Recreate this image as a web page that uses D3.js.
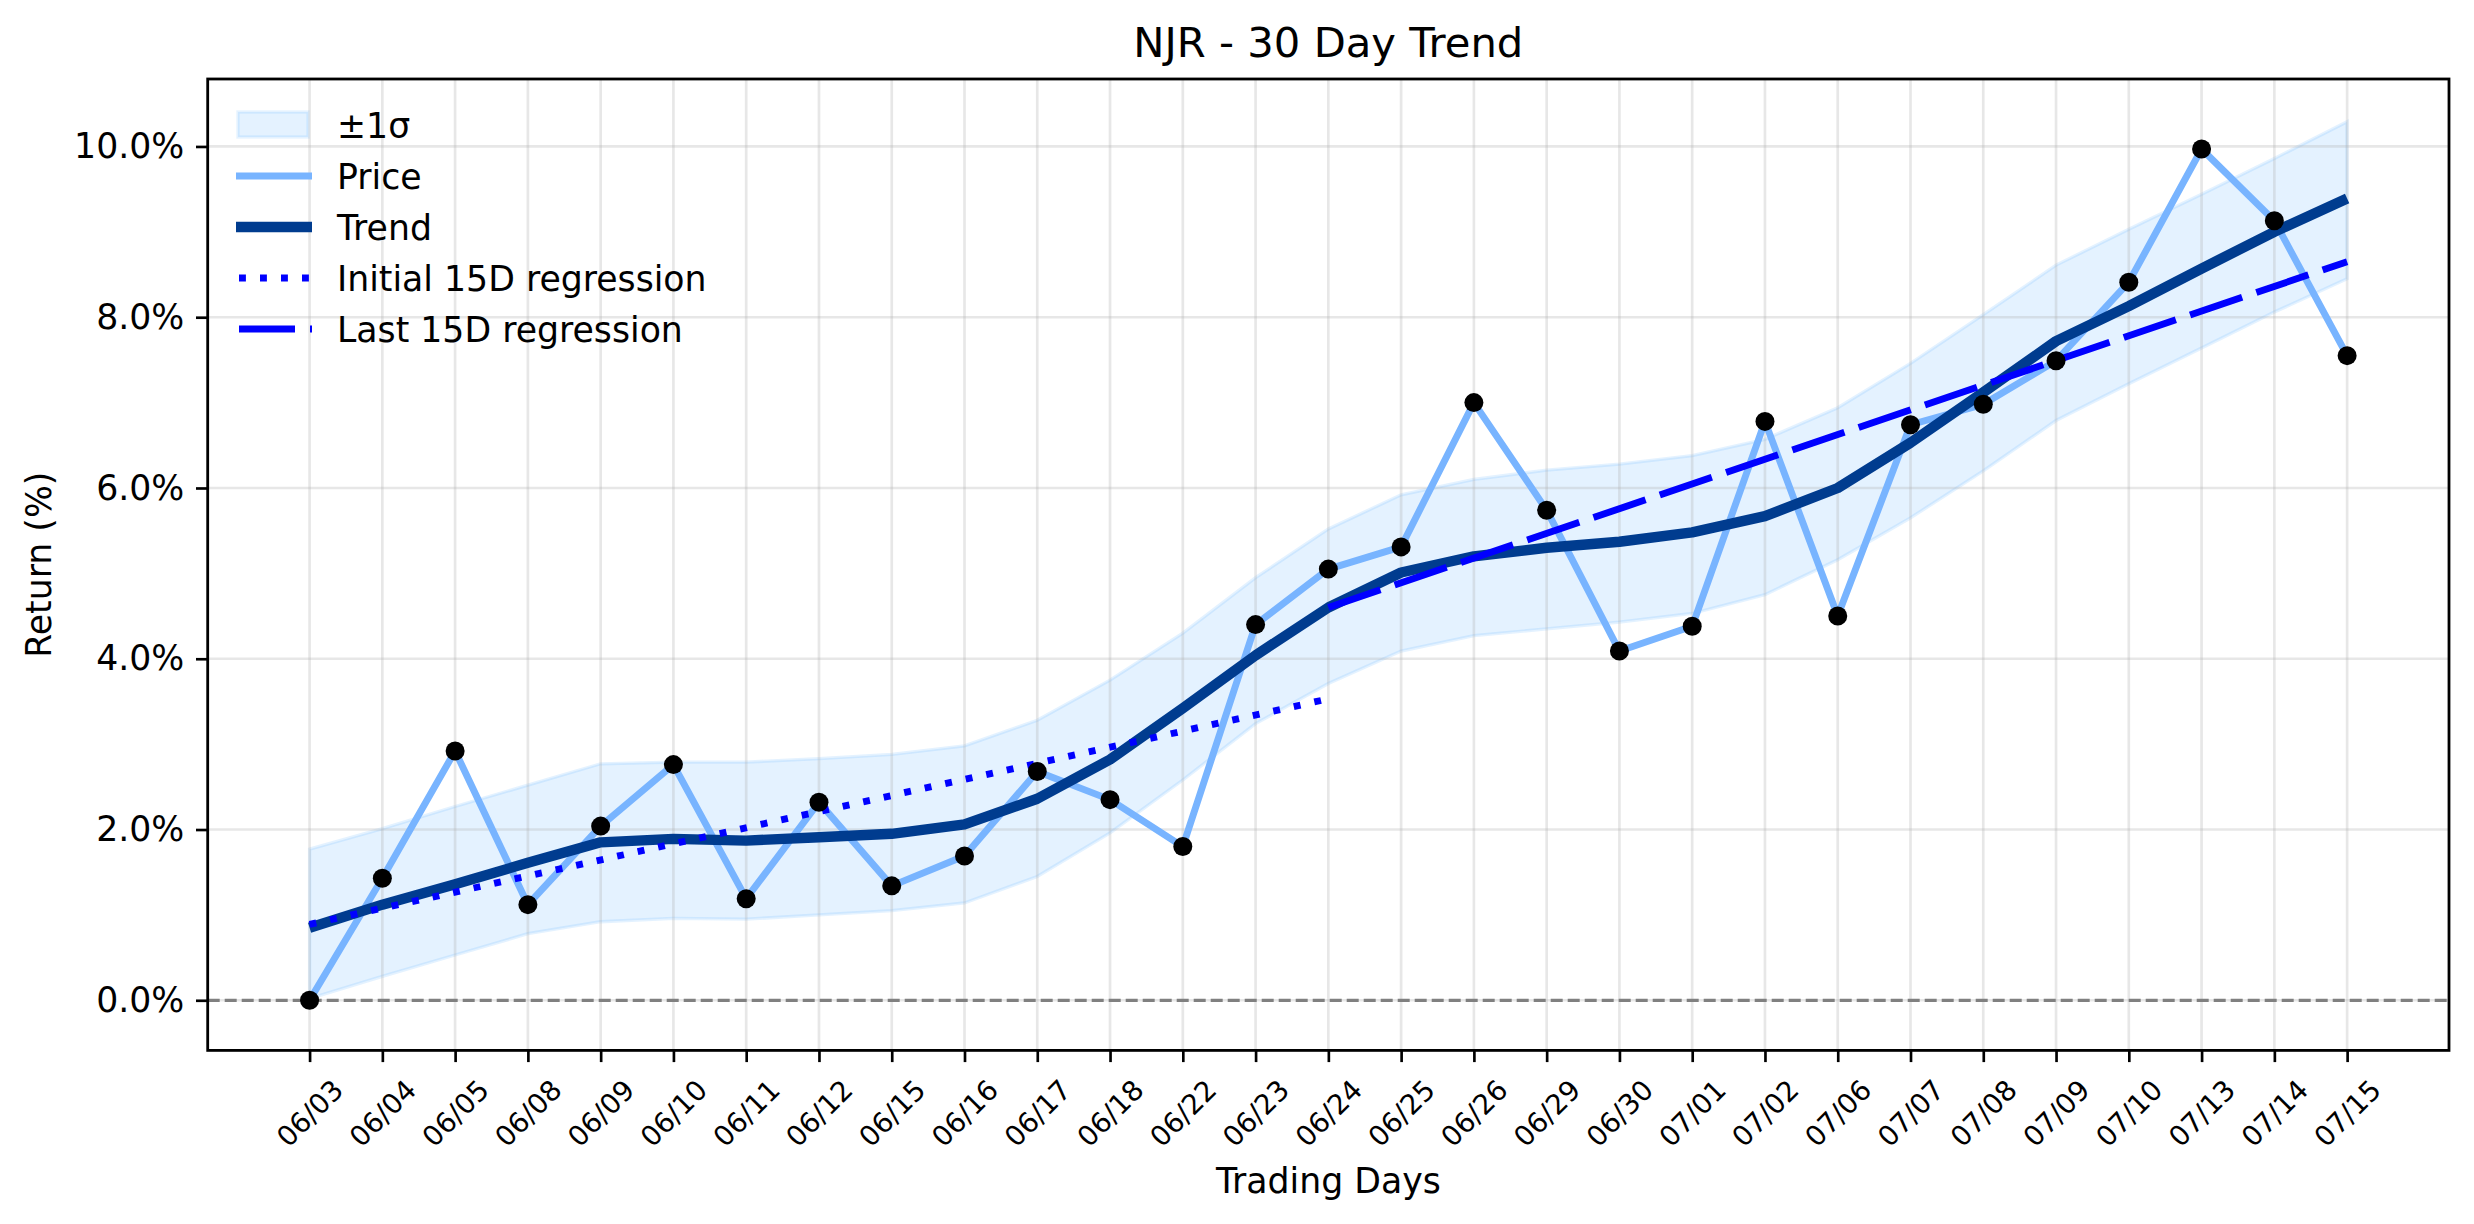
<!DOCTYPE html>
<html><head><meta charset="utf-8">
<script src="https://cdn.jsdelivr.net/npm/d3@7"></script>
<style>body{margin:0;background:#fff}</style>
</head><body><svg id="c"></svg>
<script>
const dates=["06/03","06/04","06/05","06/08","06/09","06/10","06/11","06/12","06/15","06/16","06/17","06/18","06/22","06/23","06/24","06/25","06/26","06/29","06/30","07/01","07/02","07/06","07/07","07/08","07/09","07/10","07/13","07/14","07/15"];
const price=[0.00,1.43,2.92,1.12,2.04,2.76,1.19,2.32,1.34,1.69,2.68,2.35,1.80,4.40,5.05,5.31,7.00,5.74,4.09,4.38,6.78,4.50,6.74,6.98,7.49,8.41,9.97,9.13,7.55];
const trend=[0.85,1.12,1.36,1.61,1.85,1.89,1.87,1.91,1.95,2.06,2.36,2.82,3.42,4.04,4.60,5.01,5.20,5.30,5.37,5.48,5.67,6.00,6.53,7.12,7.72,8.13,8.57,9.00,9.39];
const upper=[1.77,2.01,2.27,2.52,2.77,2.79,2.79,2.83,2.88,2.98,3.28,3.75,4.30,4.95,5.52,5.92,6.10,6.21,6.28,6.38,6.57,6.94,7.46,8.03,8.61,9.03,9.44,9.86,10.29];
const lower=[0.02,0.28,0.53,0.78,0.92,0.96,0.95,1.00,1.05,1.14,1.45,1.96,2.58,3.24,3.71,4.09,4.27,4.35,4.43,4.53,4.75,5.16,5.65,6.20,6.79,7.22,7.64,8.06,8.45];
const initReg=[[0,0.89],[14,3.53]];
const lastReg=[[14,4.60],[28,8.65]];
const yTicks=[0,2,4,6,8,10];
const legendLabels=["±1σ","Price","Trend","Initial 15D regression","Last 15D regression"];

const W=2474,H=1224;
const m={l:207.7,r:2449,t:79,b:1050.4};
const FONT='"DejaVu Sans", sans-serif';
const FS=34.7, FS_T=41.7, FS_X=27.8;
const C={price:'#78b4ff',trend:'#003c8f',reg:'#0000ff',band:'#4da6ff'};
const svg=d3.select('#c').attr('width',W).attr('height',H).style('font-family',FONT);
svg.append('rect').attr('width',W).attr('height',H).attr('fill','#fff');
const x=d3.scaleLinear().domain([-1.4,29.4]).range([m.l,m.r]);
const y=d3.scaleLinear().domain([-0.587,10.79]).range([m.b,m.t]);
const idx=dates.map((d,i)=>i);

// band
const area=d3.area().x((d,i)=>x(i)).y0((d,i)=>y(lower[i])).y1((d,i)=>y(upper[i]));
svg.append('path').datum(dates).attr('d',area)
  .attr('fill',C.band).attr('fill-opacity',0.15)
  .attr('stroke',C.band).attr('stroke-opacity',0.15).attr('stroke-width',3.3);

// grid
const grid=svg.append('g');
grid.selectAll('line.v').data(idx).join('line').attr('class','v')
  .attr('x1',i=>x(i)).attr('x2',i=>x(i)).attr('y1',m.t).attr('y2',m.b);
grid.selectAll('line.h').data(yTicks).join('line').attr('class','h')
  .attr('x1',m.l).attr('x2',m.r).attr('y1',d=>y(d)).attr('y2',d=>y(d));
grid.selectAll('line').attr('stroke','#b0b0b0').attr('stroke-opacity',0.3).attr('stroke-width',2.67);

// zero line
svg.append('line').attr('x1',m.l).attr('x2',m.r).attr('y1',y(0)).attr('y2',y(0))
  .attr('stroke','#808080').attr('stroke-width',3.3).attr('stroke-dasharray','12,5');

const line=d3.line().x((d,i)=>x(i)).y(d=>y(d));
svg.append('path').datum(price).attr('d',line).attr('fill','none')
  .attr('stroke',C.price).attr('stroke-width',6.9).attr('stroke-linejoin','round');
svg.append('path').datum(trend).attr('d',line).attr('fill','none')
  .attr('stroke',C.trend).attr('stroke-width',10.4).attr('stroke-linejoin','round');

const line2=d3.line().x(d=>x(d[0])).y(d=>y(d[1]));
svg.append('path').datum(initReg).attr('d',line2).attr('fill','none')
  .attr('stroke',C.reg).attr('stroke-width',6.9).attr('stroke-dasharray','6.9,14.1');
svg.append('path').datum(lastReg).attr('d',line2).attr('fill','none')
  .attr('stroke',C.reg).attr('stroke-width',6.9).attr('stroke-dasharray','55,15');

// points
svg.append('g').selectAll('circle').data(price).join('circle')
  .attr('cx',(d,i)=>x(i)).attr('cy',d=>y(d)).attr('r',9.5).attr('fill','#000');

// axes
const xAxis=d3.axisBottom(x).tickValues(idx).tickFormat(i=>dates[i]).tickSize(11.7).tickSizeOuter(0).tickPadding(11.7);
const gx=svg.append('g').attr('transform',`translate(0,${m.b})`).call(xAxis);
gx.select('.domain').remove();
gx.selectAll('.tick line').attr('stroke','#000').attr('stroke-width',2.67);
gx.selectAll('.tick text').attr('y',null).attr('dy',null)
  .attr('text-anchor','middle').attr('dominant-baseline','central')
  .attr('transform','translate(0,63) rotate(-45)')
  .attr('font-size',FS_X).attr('font-family',FONT).attr('fill','#000');

const yAxis=d3.axisLeft(y).tickValues(yTicks).tickFormat(d=>d.toFixed(1)+'%').tickSize(11.7).tickSizeOuter(0).tickPadding(11.7);
const gy=svg.append('g').attr('transform',`translate(${m.l},0)`).call(yAxis);
gy.select('.domain').remove();
gy.selectAll('.tick line').attr('stroke','#000').attr('stroke-width',2.67);
gy.selectAll('.tick text').attr('font-size',FS).attr('font-family',FONT).attr('fill','#000');

svg.append('rect').attr('x',m.l).attr('y',m.t).attr('width',m.r-m.l).attr('height',m.b-m.t)
  .attr('fill','none').attr('stroke','#000').attr('stroke-width',2.8);

// labels
svg.append('text').attr('x',(m.l+m.r)/2).attr('y',57).attr('text-anchor','middle')
  .attr('font-size',FS_T).text('NJR - 30 Day Trend');
svg.append('text').attr('x',(m.l+m.r)/2).attr('y',1193).attr('text-anchor','middle')
  .attr('font-size',FS).text('Trading Days');
svg.append('text').attr('transform',`translate(51,${(m.t+m.b)/2}) rotate(-90)`).attr('text-anchor','middle')
  .attr('font-size',FS).text('Return (%)');

// legend
const lg=svg.append('g');
const ly=[125,176,227,278,329];
lg.append('rect').attr('x',238).attr('y',112).attr('width',70).attr('height',25)
  .attr('fill',C.band).attr('fill-opacity',0.15).attr('stroke',C.band).attr('stroke-opacity',0.15).attr('stroke-width',3.3);
lg.append('line').attr('x1',236).attr('x2',312).attr('y1',ly[1]).attr('y2',ly[1]).attr('stroke',C.price).attr('stroke-width',6.9);
lg.append('line').attr('x1',236).attr('x2',312).attr('y1',ly[2]).attr('y2',ly[2]).attr('stroke',C.trend).attr('stroke-width',10.4);
lg.append('line').attr('x1',239).attr('x2',312).attr('y1',ly[3]).attr('y2',ly[3]).attr('stroke',C.reg).attr('stroke-width',6.9).attr('stroke-dasharray','6.9,14.1');
lg.append('line').attr('x1',239).attr('x2',312).attr('y1',ly[4]).attr('y2',ly[4]).attr('stroke',C.reg).attr('stroke-width',6.9).attr('stroke-dasharray','56,15');
lg.selectAll('text').data(legendLabels).join('text')
  .attr('x',337).attr('y',(d,i)=>ly[i]+12.5).attr('font-size',FS).text(d=>d);
</script></body></html>
